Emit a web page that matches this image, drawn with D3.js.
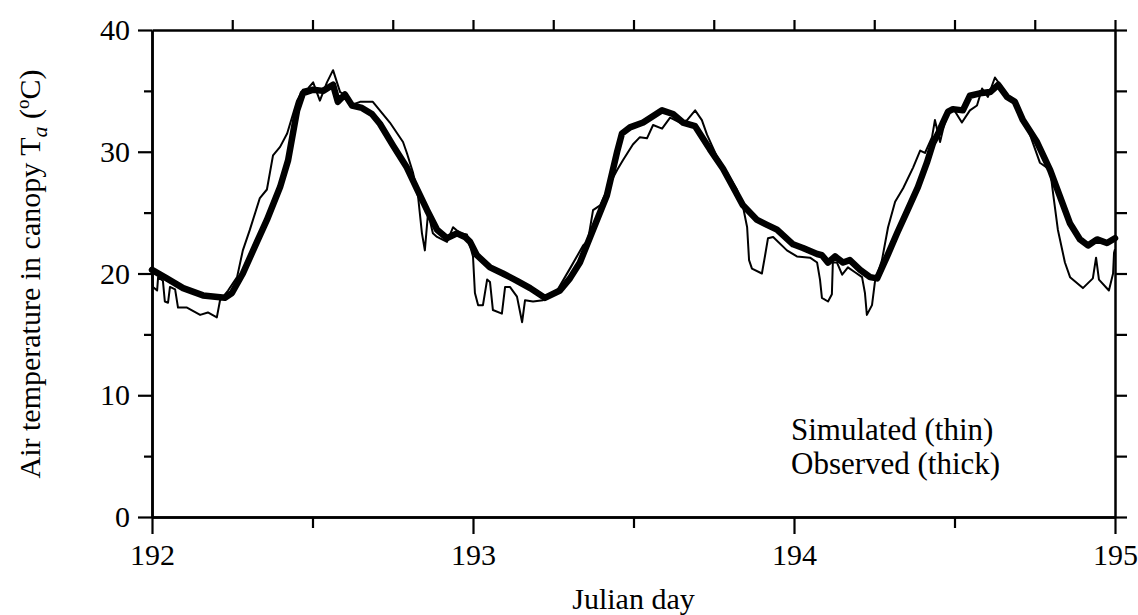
<!DOCTYPE html>
<html><head><meta charset="utf-8">
<script src="https://cdn.jsdelivr.net/npm/d3@7"></script>
<style>
body{margin:0;background:#fff}
text{font-family:"Liberation Serif","Times New Roman",serif;fill:#000}
</style></head>
<body><svg id="c" width="1138" height="615"></svg>
<script>
// Observed (thick) series
const obsDay=[192.000,192.046,192.097,192.159,192.227,192.249,192.283,192.327,192.358,192.399,192.424,192.452,192.470,192.502,192.533,192.564,192.579,192.601,192.623,192.654,192.685,192.710,192.751,192.794,192.826,192.857,192.888,192.919,192.950,192.975,192.991,193.012,193.053,193.093,193.137,193.178,193.224,193.271,193.302,193.333,193.374,193.417,193.449,193.464,193.489,193.530,193.589,193.623,193.654,193.692,193.738,193.779,193.810,193.841,193.885,193.916,193.947,193.997,194.028,194.072,194.087,194.106,194.128,194.153,194.174,194.206,194.237,194.259,194.290,194.321,194.352,194.386,194.414,194.433,194.449,194.464,194.480,194.495,194.526,194.548,194.579,194.611,194.636,194.664,194.688,194.713,194.757,194.798,194.829,194.860,194.891,194.916,194.944,194.975,195.000];
const obsTemp=[20.3,19.6,18.8,18.2,18.0,18.4,20.0,22.6,24.4,27.1,29.3,33.4,34.8,35.1,35.0,35.5,34.1,34.7,33.8,33.6,33.1,32.3,30.5,28.7,26.9,25.2,23.6,22.9,23.3,23.0,22.6,21.5,20.5,20.0,19.4,18.8,18.0,18.6,19.6,20.9,23.6,26.4,30.0,31.5,32.0,32.4,33.4,33.1,32.4,32.1,30.2,28.6,27.1,25.6,24.4,24.0,23.6,22.4,22.1,21.6,21.5,20.9,21.4,20.9,21.1,20.3,19.7,19.6,21.4,23.3,25.1,27.1,29.1,30.7,31.5,32.4,33.3,33.5,33.4,34.6,34.8,34.9,35.5,34.5,34.1,32.6,30.8,28.5,26.3,24.1,22.8,22.3,22.8,22.5,22.9];
// Simulated (thin) series
const simDay=[192.000,192.003,192.016,192.019,192.034,192.040,192.050,192.056,192.072,192.081,192.109,192.150,192.174,192.202,192.212,192.237,192.265,192.283,192.305,192.336,192.358,192.377,192.399,192.421,192.452,192.470,192.486,192.502,192.523,192.545,192.564,192.586,192.601,192.617,192.648,192.688,192.741,192.782,192.794,192.813,192.829,192.841,192.850,192.860,192.875,192.888,192.919,192.938,192.960,192.981,193.000,193.006,193.016,193.031,193.044,193.053,193.062,193.090,193.100,193.115,193.137,193.153,193.162,193.187,193.218,193.262,193.302,193.343,193.358,193.374,193.396,193.427,193.449,193.467,193.498,193.520,193.542,193.561,193.589,193.614,193.645,193.667,193.692,193.713,193.729,193.760,193.791,193.822,193.841,193.854,193.860,193.869,193.900,193.910,193.919,193.935,193.978,194.009,194.050,194.072,194.081,194.087,194.106,194.118,194.121,194.134,194.150,194.168,194.190,194.212,194.221,194.227,194.243,194.252,194.274,194.293,194.315,194.340,194.371,194.393,194.408,194.430,194.439,194.455,194.464,194.480,194.495,194.523,194.548,194.570,194.586,194.604,194.626,194.648,194.673,194.695,194.735,194.766,194.798,194.807,194.822,194.844,194.860,194.900,194.931,194.941,194.950,194.981,194.994,194.997,195.000];
const simTemp=[20.3,18.9,18.6,19.7,19.4,17.7,17.6,18.9,18.7,17.2,17.2,16.6,16.8,16.4,17.8,18.6,19.7,21.9,23.6,26.2,26.9,29.7,30.4,31.5,34.2,35.1,35.2,35.7,34.2,35.7,36.7,34.9,34.7,33.8,34.1,34.1,32.4,30.8,29.9,28.3,26.3,23.3,21.9,25.0,23.3,23.0,22.6,23.8,23.3,23.2,21.4,18.4,17.4,17.4,19.5,19.3,17.0,16.7,18.9,18.9,18.1,16.0,17.8,17.7,17.8,18.6,20.4,22.3,22.7,25.2,25.6,27.4,28.5,29.3,30.6,31.2,31.1,32.2,31.9,32.8,32.4,32.6,33.4,32.6,31.4,29.6,28.3,26.9,25.5,23.8,21.1,20.4,20.0,21.5,22.9,23.0,21.9,21.4,21.3,20.9,19.5,18.0,17.7,18.3,20.9,20.9,19.9,20.5,20.1,19.7,18.4,16.6,17.4,19.3,21.1,23.8,25.9,27.0,28.7,30.1,29.9,31.2,32.6,30.8,31.8,33.2,33.6,32.4,33.4,33.8,35.2,34.5,36.1,35.3,34.4,34.0,31.4,29.1,28.5,26.6,23.6,20.9,19.7,18.8,19.6,21.3,19.5,18.6,20.0,21.7,22.0];
const xMajor=[192,193,194,195];
const xMinor=[192.5,193.5,194.5];
const xTop=[192.25,192.5,192.75,193,193.25,193.5,193.75,194,194.25,194.5,194.75,195];
const yMajor=[0,10,20,30,40];
const yMinor=[5,15,25,35];
const yRight=[0,5,10,15,20,25,30,35,40];
const legendLabels=["Simulated (thin)","Observed (thick)"];

const svg=d3.select("#c");
const L=152,R=1115,T=30,B=517;
const x=d3.scaleLinear().domain([192,195]).range([L,R]);
const y=d3.scaleLinear().domain([0,40]).range([B,T]);

function style(g){
  g.selectAll("path.domain").attr("stroke","#000").attr("stroke-width",2.5);
  g.selectAll(".tick line").attr("stroke","#000").attr("stroke-width",2.2);
  g.selectAll(".tick text").style("font-family",'"Liberation Serif",serif').style("font-size","30px").attr("fill","#000");
}
// left
svg.append("g").attr("transform",`translate(${L},0)`).call(d3.axisLeft(y).tickValues(yMinor).tickSize(8).tickSizeOuter(0).tickFormat("")).call(style);
svg.append("g").attr("transform",`translate(${L},0)`).call(d3.axisLeft(y).tickValues(yMajor).tickSize(14).tickSizeOuter(0).tickPadding(8).tickFormat(d3.format("d"))).call(style);
// right
svg.append("g").attr("transform",`translate(${R},0)`).call(d3.axisRight(y).tickValues(yRight).tickSize(12).tickSizeOuter(0).tickFormat("")).call(style);
// bottom
svg.append("g").attr("transform",`translate(0,${B})`).call(d3.axisBottom(x).tickValues(xMinor).tickSize(11).tickSizeOuter(0).tickFormat("")).call(style);
svg.append("g").attr("transform",`translate(0,${B})`).call(d3.axisBottom(x).tickValues(xMajor).tickSize(17).tickSizeOuter(0).tickPadding(10).tickFormat(d3.format("d"))).call(style);
// top
svg.append("g").attr("transform",`translate(0,${T})`).call(d3.axisTop(x).tickValues(xTop).tickSize(10).tickSizeOuter(0).tickFormat("")).call(style);

const line=d3.line().curve(d3.curveLinear);
const obsPts=obsDay.map((d,i)=>[x(d),y(obsTemp[i])]);
const simPts=simDay.map((d,i)=>[x(d),y(simTemp[i])]);
svg.append("path").attr("d",line(obsPts)).attr("fill","none").attr("stroke","#000").attr("stroke-width",6.5).attr("stroke-linejoin","round").attr("stroke-linecap","round");
svg.append("path").attr("d",line(simPts)).attr("fill","none").attr("stroke","#000").attr("stroke-width",2).attr("stroke-linejoin","round");

// axis titles
svg.append("text").attr("x",(L+R)/2).attr("y",609).attr("text-anchor","middle").style("font-size","30px").text("Julian day");
const yl=svg.append("text").attr("transform","translate(40,274) rotate(-90)").attr("text-anchor","middle").style("font-size","30px");
yl.append("tspan").text("Air temperature in canopy T");
yl.append("tspan").attr("font-style","italic").attr("dy",7).style("font-size","22px").text("a");
yl.append("tspan").attr("dy",-7).text(" (");
yl.append("tspan").attr("dy",-11).style("font-size","19px").text("o");
yl.append("tspan").attr("dy",11).text("C)");
// legend
svg.selectAll("text.leg").data(legendLabels).enter().append("text").attr("class","leg")
  .attr("x",791).attr("y",(d,i)=>440+i*34).style("font-size","31px").text(d=>d);
</script></body></html>
